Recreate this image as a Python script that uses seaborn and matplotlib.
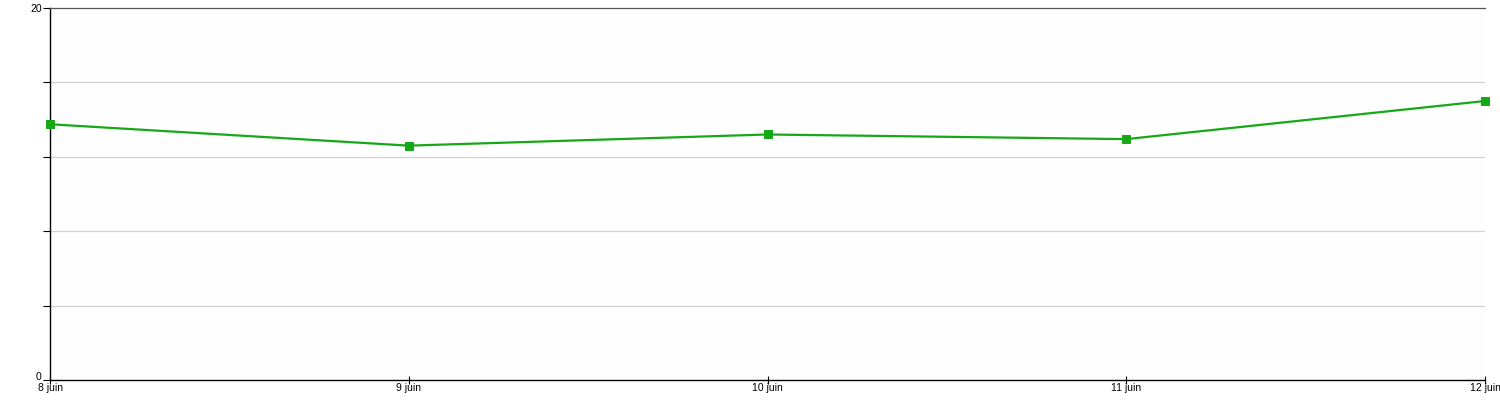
import pandas as pd
import seaborn as sns
import matplotlib.pyplot as plt
import matplotlib.transforms as mtransforms

# data
days = [8, 9, 10, 11, 12]
day_labels = ['8 juin', '9 juin', '10 juin', '11 juin', '12 juin']
values = [13.75, 12.6, 13.2, 12.95, 15.0]

df = pd.DataFrame({'day': days, 'value': values})

sns.set_style('white')
plt.rcParams['font.family'] = ['Liberation Sans', 'DejaVu Sans']

fig = plt.figure(figsize=(15, 4), dpi=100)
ax = fig.add_axes([50 / 1500, 1 - 380 / 400, 1435 / 1500, 372 / 400])
ax.set_facecolor('#fefefe')

sns.lineplot(data=df, x='day', y='value', ax=ax, color='#16a816',
             linewidth=1.6, marker='s', markersize=5.5,
             markeredgecolor='#16a816', clip_on=False, zorder=3)

ax.set_xlim(8, 12)
ax.set_ylim(0, 20)
ax.set_xticks(days)
ax.set_xticklabels(day_labels)
ax.set_yticks([0, 4, 8, 12, 16, 20])
ax.set_yticklabels(['0', '', '', '', '', '20'])
ax.set_xlabel('')
ax.set_ylabel('')

for v in [4, 8, 12, 16]:
    ax.axhline(v, color='#d2d2d2', linewidth=0.9, zorder=1)

ax.tick_params(axis='y', direction='out', length=5, width=0.8,
               color='black', labelcolor='black', labelsize=7.5, pad=1,
               left=True)
ax.tick_params(axis='x', direction='inout', length=6, width=0.8,
               color='black', labelcolor='black', labelsize=7.5, pad=-1,
               bottom=True)

# nudge the "0" label up so it sits beside "8 juin" like in the reference
zero = ax.get_yticklabels()[0]
zero.set_transform(zero.get_transform() +
                   mtransforms.ScaledTranslation(0, 4 / 100, fig.dpi_scale_trans))

ax.spines['right'].set_visible(False)
ax.spines['top'].set_color('#555555')
ax.spines['top'].set_linewidth(0.9)
ax.spines['left'].set_color('black')
ax.spines['bottom'].set_color('black')
ax.spines['left'].set_linewidth(1.0)
ax.spines['bottom'].set_linewidth(1.0)

fig.savefig('out.png', dpi=100, facecolor='white')
